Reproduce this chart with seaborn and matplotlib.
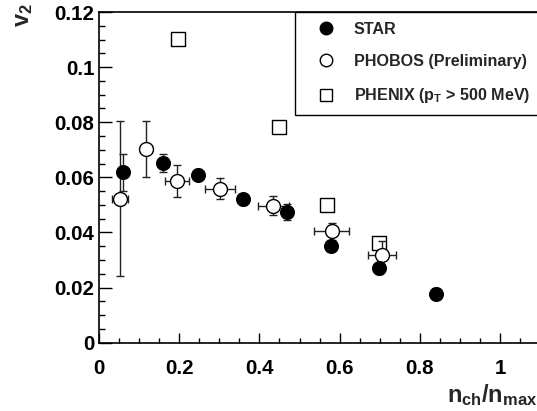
import numpy as np
import pandas as pd
import matplotlib
matplotlib.use("Agg")
import matplotlib.pyplot as plt
from matplotlib.lines import Line2D
from matplotlib.ticker import MultipleLocator, FuncFormatter
import seaborn as sns

# Elliptic flow v2 versus normalized multiplicity
star_x = [0.059, 0.159, 0.247, 0.360, 0.469, 0.579, 0.699, 0.840]
star_v2 = [0.0618, 0.0652, 0.0609, 0.0520, 0.0474, 0.0352, 0.0270, 0.0178]
star_v2_err = [0.0066, 0.0033, 0.002, 0.002, 0.003, 0.002, 0.002, 0.002]

phobos_x = [0.052, 0.116, 0.195, 0.302, 0.435, 0.580, 0.706]
phobos_v2 = [0.0523, 0.0703, 0.0586, 0.0558, 0.0497, 0.0404, 0.0319]
phobos_x_err = [0.0195, 0.015, 0.0294, 0.037, 0.039, 0.043, 0.0345]
phobos_v2_err = [0.028, 0.0103, 0.0057, 0.0038, 0.0035, 0.003, 0.0049]

phenix_x = [0.198, 0.449, 0.569, 0.699]
phenix_v2 = [0.1101, 0.0784, 0.0500, 0.0361]

x_ticks = [0, 0.2, 0.4, 0.6, 0.8, 1.0]
y_ticks = [0, 0.02, 0.04, 0.06, 0.08, 0.10, 0.12]

series_labels = ["STAR", "PHOBOS (Preliminary)", r"PHENIX ($p_T$ > 500 MeV)"]

sns.set_theme(style="ticks")
plt.rcParams["font.family"] = ["Liberation Sans", "DejaVu Sans"]
plt.rcParams["font.weight"] = "bold"
plt.rcParams["mathtext.fontset"] = "custom"
plt.rcParams["mathtext.rm"] = "Liberation Sans:bold"
plt.rcParams["mathtext.it"] = "Liberation Sans:bold"
plt.rcParams["mathtext.bf"] = "Liberation Sans:bold"
plt.rcParams["mathtext.sf"] = "Liberation Sans:bold"

star = pd.DataFrame({"x": star_x, "v2": star_v2})
phobos = pd.DataFrame({"x": phobos_x, "v2": phobos_v2})
phenix = pd.DataFrame({"x": phenix_x, "v2": phenix_v2})

fig = plt.figure(figsize=(5.37, 4.11), dpi=100)
ax = fig.add_axes([0.1844, 0.1662, 0.8214, 0.8046])

# PHENIX open squares
sns.scatterplot(data=phenix, x="x", y="v2", ax=ax, marker="s", s=115,
                facecolor="white", edgecolor="black", linewidth=1.0,
                zorder=2, legend=False)

# PHOBOS open circles with x and y uncertainties
ax.errorbar(phobos_x, phobos_v2, xerr=phobos_x_err, yerr=phobos_v2_err,
            fmt="none", ecolor="#222222", elinewidth=1.0, capsize=2.6,
            capthick=1.0, zorder=3)
sns.scatterplot(data=phobos, x="x", y="v2", ax=ax, marker="o", s=100,
                facecolor="white", edgecolor="black", linewidth=1.0,
                zorder=4, legend=False)

# STAR filled circles
ax.errorbar(star_x, star_v2, yerr=star_v2_err, fmt="none", ecolor="#222222",
            elinewidth=1.0, capsize=2.6, capthick=1.0, zorder=5)
sns.scatterplot(data=star, x="x", y="v2", ax=ax, marker="o", s=100,
                facecolor="black", edgecolor="black", linewidth=0.8,
                zorder=6, legend=False)

ax.set_xlim(0, 1.1)
ax.set_ylim(0, 0.12)
ax.set_xticks(x_ticks)
ax.set_yticks(y_ticks)
ax.xaxis.set_minor_locator(MultipleLocator(0.05))
ax.yaxis.set_minor_locator(MultipleLocator(0.005))
fmt = FuncFormatter(lambda v, pos: "%g" % round(v, 4))
ax.xaxis.set_major_formatter(fmt)
ax.yaxis.set_major_formatter(fmt)

ax.tick_params(axis="both", which="both", direction="in", colors="black",
               top=False, right=False, labelsize=14.8)
ax.tick_params(axis="x", which="major", length=7.2, width=1.0, pad=11.5)
ax.tick_params(axis="x", which="minor", length=3.6, width=1.0)
ax.tick_params(axis="y", which="major", length=9.2, width=1.0, pad=3.4)
ax.tick_params(axis="y", which="minor", length=4.4, width=1.0)
for lbl in ax.get_xticklabels() + ax.get_yticklabels():
    lbl.set_fontweight("bold")

for side in ["left", "bottom", "top", "right"]:
    ax.spines[side].set_visible(True)
    ax.spines[side].set_color("black")
    ax.spines[side].set_linewidth(1.2)

ax.set_xlabel(r"$n_{ch}/n_{max}$", fontsize=17, loc="right")
ax.xaxis.set_label_coords(0.993, -0.158)
ax.xaxis.label.set_va("center")
ax.set_ylabel(r"$v_2$", fontsize=17, loc="top")
ax.yaxis.set_label_coords(-0.170, 1.025)
ax.yaxis.label.set_va("center")
ax.yaxis.label.set_ha("right")

handles = [
    Line2D([], [], ls="none", marker="o", ms=9, mfc="black", mec="black"),
    Line2D([], [], ls="none", marker="o", ms=9, mfc="white", mec="black", mew=1.0),
    Line2D([], [], ls="none", marker="s", ms=9, mfc="white", mec="black", mew=1.0),
]
leg = ax.legend(handles, series_labels, loc="upper left",
                bbox_to_anchor=(0.444, 0.691, 0.556, 0.309), mode="expand",
                borderaxespad=0, fancybox=False, frameon=True,
                prop={"size": 11.6, "weight": "bold"},
                borderpad=0.6, labelspacing=1.08, handlelength=2.7,
                handletextpad=0.36)
frame = leg.get_frame()
frame.set_edgecolor("black")
frame.set_linewidth(1.0)
frame.set_alpha(1.0)

fig.savefig("out.png", dpi=100)
